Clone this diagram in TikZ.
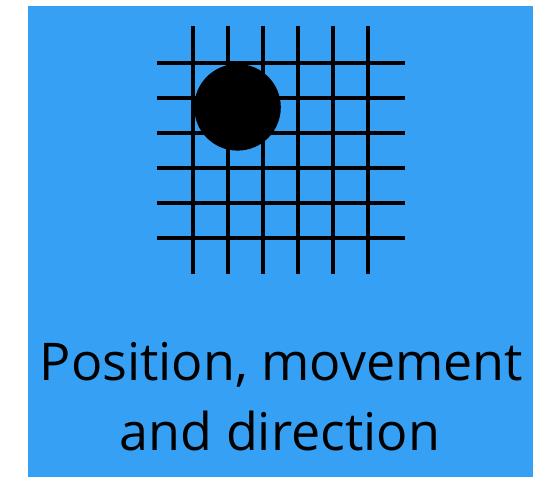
\documentclass[tikz,border=0pt]{standalone}
\usepackage{fontspec}
\setmainfont{Open Sans}
\definecolor{bgblue}{HTML}{36A0F5}
\begin{document}
\begin{tikzpicture}[x=1pt,y=-1pt,
  gridline/.style={line width=4pt,black},
  label/.style={anchor=base,inner sep=0pt,font=\fontsize{52}{60}\selectfont}]
\useasboundingbox (0,0) rectangle (551,477);
\fill[white] (0,0) rectangle (551,477);
\fill[bgblue] (28,6) rectangle (533,477);
\foreach \x in {0,...,5} {
  \draw[gridline] (192.7+35*\x,26) -- (192.7+35*\x,274);
}
\foreach \y in {0,...,5} {
  \draw[gridline] (157,62.7+35*\y) -- (405,62.7+35*\y);
}
\fill[black] (237.5,107.3) circle[radius=43.3];
\node[label] (l1) at (281.5,380) {Position, movement};
\node[label] (l2) at (280,450) {and direction};
\end{tikzpicture}
\end{document}
